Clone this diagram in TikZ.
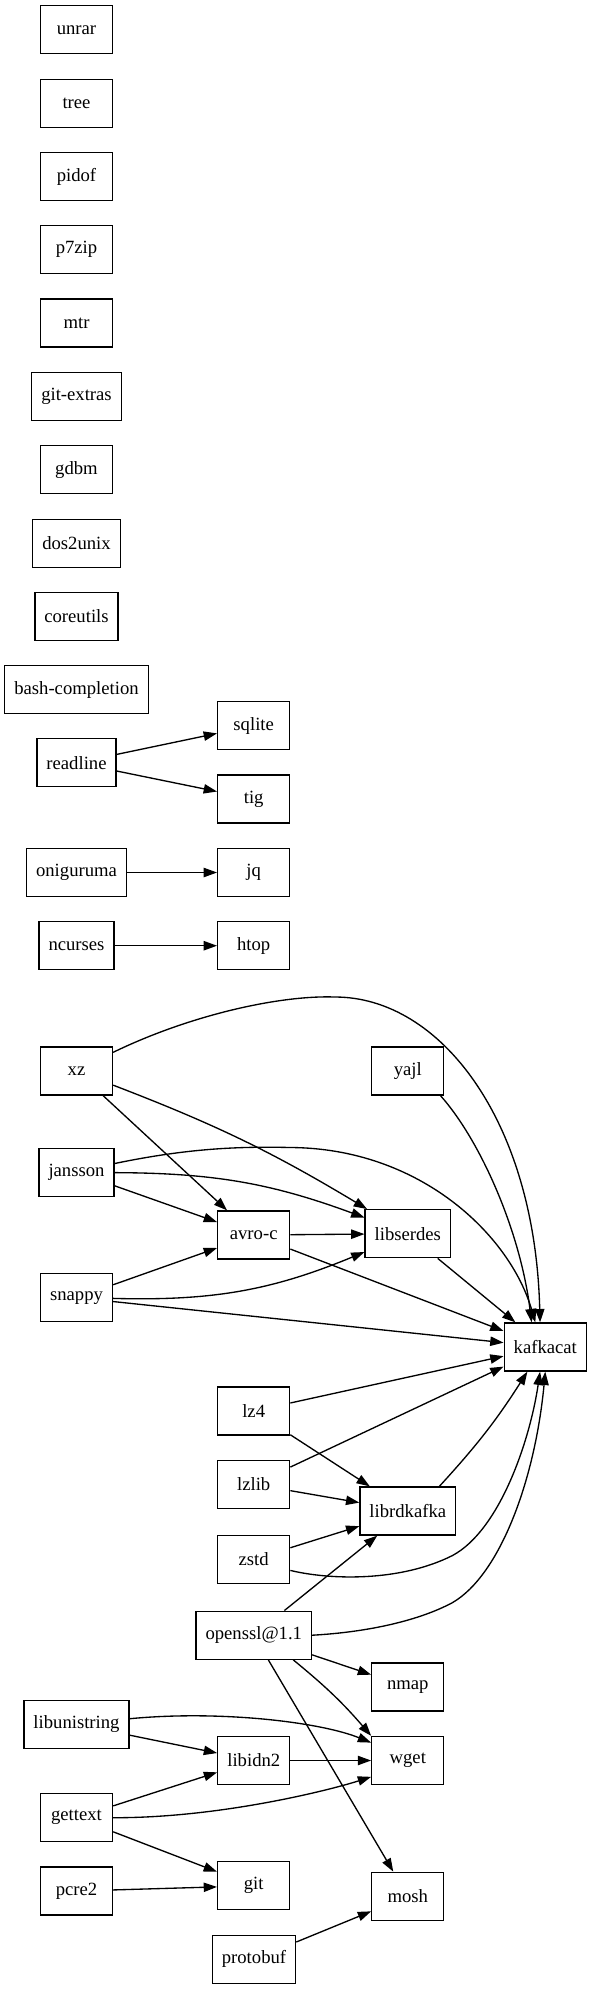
\documentclass[tikz,border=0pt]{standalone}
\usepackage{fontspec}
\setmainfont{Liberation Serif}
\usetikzlibrary{arrows.meta, positioning, calc}

\begin{document}
\begin{tikzpicture}[x=0.75pt, y=-0.75pt,
  pkg/.style={draw, line width=1pt, rectangle, minimum width=54pt, minimum height=36pt, inner xsep=7.1pt, inner ysep=0pt, font=\fontsize{14}{16}\selectfont},
  dep/.style={line width=1pt, -{Triangle[length=10pt, width=7pt]}}]
\useasboundingbox (0,0) rectangle (592,1989);

% Packages with no dependencies
\node[pkg] (unrar) at (76.5,29.7) {unrar};
\node[pkg] (tree) at (76.5,103.2) {tree};
\node[pkg] (pidof) at (76.5,176.5) {pidof};
\node[pkg] (p7zip) at (76.5,249.7) {p7zip};
\node[pkg] (mtr) at (76.5,323) {mtr};
\node[pkg] (gitextras) at (76.5,396.3) {git-extras};
\node[pkg] (gdbm) at (76.5,469.7) {gdbm};
\node[pkg] (dos2unix) at (76.5,543.2) {dos2unix};
\node[pkg] (coreutils) at (76.5,616.5) {coreutils};
\node[pkg] (bashcompletion) at (76.5,689.7) {bash-completion};

% Small pairs
\node[pkg] (readline) at (76.5,762.8) {readline};
\node[pkg] (sqlite) at (253.7,725.7) {sqlite};
\node[pkg] (tig) at (253.7,799) {tig};
\node[pkg] (oniguruma) at (76.5,872.5) {oniguruma};
\node[pkg] (jq) at (253.7,872.5) {jq};
\node[pkg] (ncurses) at (76.5,945.7) {ncurses};
\node[pkg] (htop) at (253.7,945.7) {htop};

% kafkacat and its libraries
\node[pkg] (xz) at (76.5,1071) {xz};
\node[pkg] (jansson) at (76.5,1172.3) {jansson};
\node[pkg] (snappy) at (76.5,1297.7) {snappy};
\node[pkg] (avroc) at (253.7,1235) {avro-c};
\node[pkg] (yajl) at (407.8,1071) {yajl};
\node[pkg] (libserdes) at (407.8,1233.7) {libserdes};
\node[pkg] (kafkacat) at (545.3,1347) {kafkacat};
\node[pkg] (lz4) at (253.7,1411) {lz4};
\node[pkg] (lzlib) at (253.7,1484.3) {lzlib};
\node[pkg] (zstd) at (253.7,1559.2) {zstd};
\node[pkg] (librdkafka) at (407.8,1511) {librdkafka};
\node[pkg] (openssl) at (253.8,1635.2) {openssl@1.1};

% openssl users, wget, git, mosh
\node[pkg] (nmap) at (407.8,1687) {nmap};
\node[pkg] (libunistring) at (76.5,1724.3) {libunistring};
\node[pkg] (libidn2) at (253.8,1760.5) {libidn2};
\node[pkg] (wget) at (407.8,1760.5) {wget};
\node[pkg] (gettext) at (76.5,1817.7) {gettext};
\node[pkg] (pcre2) at (76.5,1891) {pcre2};
\node[pkg] (git) at (253.7,1885.8) {git};
\node[pkg] (mosh) at (407.8,1896.3) {mosh};
\node[pkg] (protobuf) at (254,1959.3) {protobuf};

% Edges of the small pairs
\draw[dep] (readline) -- (sqlite);
\draw[dep] (readline) -- (tig);
\draw[dep] (oniguruma) -- (jq);
\draw[dep] (ncurses) -- (htop);

% Edges into avro-c, libserdes and kafkacat
\draw[dep] (xz.27) .. controls (190,1015) and (280,995) .. (335,997) .. controls (440,997) and (535,1120) .. (kafkacat.102);
\draw[dep] (xz) to[bend left=5] (libserdes);
\draw[dep] (xz) -- (avroc);
\draw[dep] (yajl.-37) .. controls (480,1140) and (520,1230) .. (kafkacat.119);
\draw[dep] (jansson.13) .. controls (180,1150) and (230,1146) .. (290,1147.5) .. controls (420,1148) and (510,1235) .. (kafkacat.112);
\draw[dep] (jansson) to[bend left=10] (libserdes);
\draw[dep] (jansson) -- (avroc);
\draw[dep] (avroc) -- (libserdes);
\draw[dep] (avroc) -- (kafkacat);
\draw[dep] (snappy) -- (avroc);
\draw[dep] (snappy) to[bend right=12] (libserdes);
\draw[dep] (snappy) -- (kafkacat);
\draw[dep] (libserdes) -- (kafkacat);

% Edges into librdkafka and kafkacat
\draw[dep] (lz4) -- (kafkacat);
\draw[dep] (lz4) -- (librdkafka);
\draw[dep] (lzlib) -- (kafkacat);
\draw[dep] (lzlib) -- (librdkafka);
\draw[dep] (zstd) -- (librdkafka);
\draw[dep] (zstd.-17) .. controls (330,1580) and (400,1582) .. (452.5,1555.5) .. controls (500,1530) and (530,1440) .. (kafkacat.-102);
\draw[dep] (librdkafka.38) to[bend right=5] (kafkacat.234);
\draw[dep] (openssl) -- (librdkafka);
\draw[dep] (openssl.east) .. controls (370,1632) and (420,1620) .. (452.5,1602.6) .. controls (500,1575) and (535,1480) .. (kafkacat.south);

% Edges of the openssl users
\draw[dep] (openssl) -- (nmap);
\draw[dep] (openssl.-32) to[bend left=5] (wget.north west);
\draw[dep] (openssl) -- (mosh);
\draw[dep] (libunistring.6) .. controls (220,1710) and (320,1722) .. (wget.154);
\draw[dep] (libunistring) -- (libidn2);
\draw[dep] (libidn2) -- (wget);
\draw[dep] (gettext) -- (libidn2);
\draw[dep] (gettext.east) .. controls (220,1818) and (330,1790) .. (wget.204);
\draw[dep] (gettext) -- (git);
\draw[dep] (pcre2) -- (git);
\draw[dep] (protobuf) -- (mosh);
\end{tikzpicture}
\end{document}
